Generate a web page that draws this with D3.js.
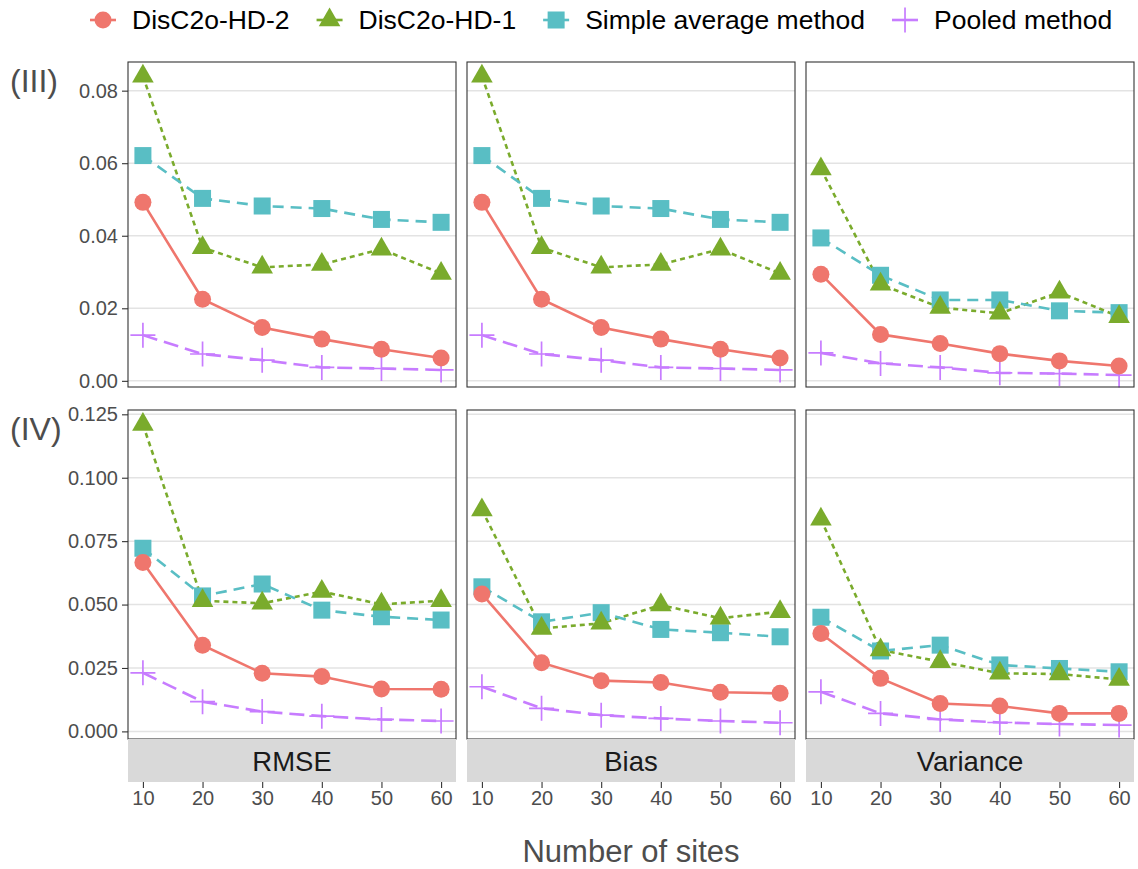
<!DOCTYPE html>
<html>
<head>
<meta charset="utf-8">
<script src="https://cdn.jsdelivr.net/npm/d3@7"></script>
<style>
  body { margin: 0; background: #fff; }
  svg { display: block; }
  text { font-family: "Liberation Sans", Arial, Helvetica, sans-serif; }
</style>
</head>
<body>
<svg id="chart" width="1138" height="869"></svg>
<script>
// ---- data -------------------------------------------------------------
const sites = [10, 20, 30, 40, 50, 60];
const methods = ["DisC2o-HD-2", "DisC2o-HD-1", "Simple average method", "Pooled method"];
const metrics = ["RMSE", "Bias", "Variance"];
const scenarios = ["(III)", "(IV)"];

const yTicksIII = [0, 0.02, 0.04, 0.06, 0.08];
const yTickLabelsIII = ["0.00", "0.02", "0.04", "0.06", "0.08"];
const yTicksIV = [0, 0.025, 0.05, 0.075, 0.1, 0.125];
const yTickLabelsIV = ["0.000", "0.025", "0.050", "0.075", "0.100", "0.125"];

// one row per method, in the order of `methods`
const rmseIII = [
  [0.0492, 0.0225, 0.0147, 0.0115, 0.0087, 0.0063],
  [0.0840, 0.0367, 0.0313, 0.0321, 0.0363, 0.0296],
  [0.0621, 0.0503, 0.0482, 0.0475, 0.0445, 0.0437],
  [0.0126, 0.0074, 0.0057, 0.0037, 0.0034, 0.0030]
];
const biasIII = [
  [0.0492, 0.0225, 0.0147, 0.0115, 0.0087, 0.0063],
  [0.0840, 0.0367, 0.0313, 0.0321, 0.0363, 0.0296],
  [0.0621, 0.0503, 0.0482, 0.0475, 0.0445, 0.0437],
  [0.0126, 0.0074, 0.0057, 0.0037, 0.0034, 0.0030]
];
const varianceIII = [
  [0.0294, 0.0128, 0.0103, 0.0075, 0.0055, 0.0041],
  [0.0584, 0.0266, 0.0202, 0.0186, 0.0244, 0.0177],
  [0.0394, 0.0291, 0.0223, 0.0223, 0.0193, 0.0188],
  [0.0077, 0.0048, 0.0037, 0.0022, 0.0020, 0.0016]
];
const rmseIV = [
  [0.0666, 0.0340, 0.0229, 0.0216, 0.0167, 0.0166],
  [0.1210, 0.0515, 0.0505, 0.0551, 0.0501, 0.0515],
  [0.0722, 0.0534, 0.0581, 0.0478, 0.0452, 0.0439],
  [0.0231, 0.0117, 0.0078, 0.0060, 0.0047, 0.0041]
];
const biasIV = [
  [0.0542, 0.0271, 0.0200, 0.0193, 0.0154, 0.0150],
  [0.0873, 0.0406, 0.0426, 0.0498, 0.0446, 0.0472],
  [0.0570, 0.0432, 0.0468, 0.0402, 0.0389, 0.0373],
  [0.0176, 0.0091, 0.0064, 0.0051, 0.0041, 0.0034]
];
const varianceIV = [
  [0.0386, 0.0209, 0.0110, 0.0100, 0.0071, 0.0071],
  [0.0836, 0.0321, 0.0275, 0.0229, 0.0226, 0.0205],
  [0.0450, 0.0317, 0.0340, 0.0262, 0.0248, 0.0235],
  [0.0156, 0.0071, 0.0047, 0.0035, 0.0029, 0.0025]
];

// ---- styling ----------------------------------------------------------
const colors = ["#ef766d", "#7aab2c", "#59bec4", "#c77cff"];
const dashes = [null, "5,4", "11,7", "15,7"];
const shapes = ["circle", "triangle", "square", "cross"];
const lineWidth = 2.6;

const panelLeft = 128, panelW = 328, panelGap = 11;
const rowTop = [62, 410], rowH = [325, 329];
const stripH = 43;
const yDomains = [[-0.0017, 0.0879], [-0.0030, 0.1267]];

const grid = [
  { ticks: yTicksIII, labels: yTickLabelsIII, data: [rmseIII, biasIII, varianceIII] },
  { ticks: yTicksIV, labels: yTickLabelsIV, data: [rmseIV, biasIV, varianceIV] }
];

const svg = d3.select("#chart");

function drawShape(g, shape, color) {
  if (shape === "circle") {
    g.append("circle").attr("r", 8.5).attr("fill", color);
  } else if (shape === "square") {
    g.append("rect").attr("x", -8.5).attr("y", -8.5).attr("width", 17).attr("height", 17).attr("fill", color);
  } else if (shape === "triangle") {
    g.append("path").attr("d", "M0,-12.5L10.8,6.25L-10.8,6.25Z").attr("fill", color);
  } else {
    g.append("path").attr("d", "M-12.5,0H12.5M0,-12.5V12.5")
      .attr("stroke", color).attr("stroke-width", 1.7).attr("fill", "none");
  }
}

const x = d3.scaleLinear().domain([7.5, 62.5]).range([0, panelW]);

grid.forEach((row, ri) => {
  const y = d3.scaleLinear().domain(yDomains[ri]).range([rowH[ri], 0]);

  // row label
  svg.append("text")
    .attr("x", 10).attr("y", rowTop[ri] + 19)
    .attr("dominant-baseline", "central")
    .attr("font-size", 32).attr("fill", "#4d4d4d")
    .text(scenarios[ri]);

  // y axis on the left-most panel
  const yAxis = d3.axisLeft(y).tickValues(row.ticks)
    .tickFormat((d, i) => row.labels[i]).tickSize(6).tickPadding(4);
  const ya = svg.append("g")
    .attr("transform", `translate(${panelLeft},${rowTop[ri]})`)
    .call(yAxis);
  ya.select(".domain").remove();
  ya.selectAll(".tick line").attr("stroke", "#333").attr("stroke-width", 1.1);
  ya.selectAll(".tick text").attr("font-size", 20).attr("fill", "#4d4d4d")
    .attr("font-family", '"Liberation Sans", Arial, sans-serif');

  metrics.forEach((metric, mi) => {
    const px = panelLeft + mi * (panelW + panelGap);
    const p = svg.append("g").attr("transform", `translate(${px},${rowTop[ri]})`);

    p.append("rect").attr("width", panelW).attr("height", rowH[ri]).attr("fill", "#fff");

    // horizontal grid
    p.selectAll("line.grid").data(row.ticks).join("line")
      .attr("class", "grid")
      .attr("x1", 0).attr("x2", panelW)
      .attr("y1", d => y(d)).attr("y2", d => y(d))
      .attr("stroke", "#e3e3e3").attr("stroke-width", 1.5);

    const series = row.data[mi];
    const line = d3.line().x((d, i) => x(sites[i])).y(d => y(d));

    series.forEach((vals, si) => {
      p.append("path").datum(vals)
        .attr("d", line)
        .attr("fill", "none")
        .attr("stroke", colors[si])
        .attr("stroke-width", lineWidth)
        .attr("stroke-dasharray", dashes[si]);
    });

    // points, drawn back-to-front so the first method lands on top
    [3, 2, 1, 0].forEach(si => {
      series[si].forEach((v, i) => {
        const g = p.append("g").attr("transform", `translate(${x(sites[i])},${y(v)})`);
        drawShape(g, shapes[si], colors[si]);
      });
    });

    p.append("rect").attr("width", panelW).attr("height", rowH[ri])
      .attr("fill", "none").attr("stroke", "#333").attr("stroke-width", 1.1);

    // strips and x axis below the bottom row
    if (ri === grid.length - 1) {
      const sy = rowH[ri];
      p.append("rect").attr("y", sy).attr("width", panelW).attr("height", stripH).attr("fill", "#d9d9d9");
      p.append("text")
        .attr("x", panelW / 2).attr("y", sy + stripH / 2 + 1)
        .attr("text-anchor", "middle").attr("dominant-baseline", "central")
        .attr("font-size", 27.5).attr("fill", "#1a1a1a")
        .text(metric);

      const xa = p.append("g")
        .attr("transform", `translate(0,${sy + stripH})`)
        .call(d3.axisBottom(x).tickValues(sites).tickFormat(d3.format("d")).tickSize(6).tickPadding(3));
      xa.select(".domain").remove();
      xa.selectAll(".tick line").attr("stroke", "#333").attr("stroke-width", 1.1);
      xa.selectAll(".tick text").attr("font-size", 20).attr("fill", "#4d4d4d")
        .attr("font-family", '"Liberation Sans", Arial, sans-serif');
    }
  });
});

// x axis title
const plotMid = panelLeft + (3 * panelW + 2 * panelGap) / 2;
svg.append("text")
  .attr("x", plotMid).attr("y", 851)
  .attr("text-anchor", "middle").attr("dominant-baseline", "central")
  .attr("font-size", 31).attr("fill", "#4d4d4d")
  .text("Number of sites");

// legend across the top
let lx = 103;
const ly = 20;
methods.forEach((name, si) => {
  const g = svg.append("g").attr("transform", `translate(${lx},${ly})`);
  g.append("line").attr("x1", -13).attr("x2", 13)
    .attr("stroke", colors[si]).attr("stroke-width", lineWidth);
  drawShape(g, shapes[si], colors[si]);
  const t = svg.append("text")
    .attr("x", lx + 29).attr("y", ly)
    .attr("dominant-baseline", "central")
    .attr("font-size", 26.5).attr("fill", "#000")
    .text(name);
  lx += 29 + t.node().getComputedTextLength() + 40;
});
</script>
</body>
</html>
